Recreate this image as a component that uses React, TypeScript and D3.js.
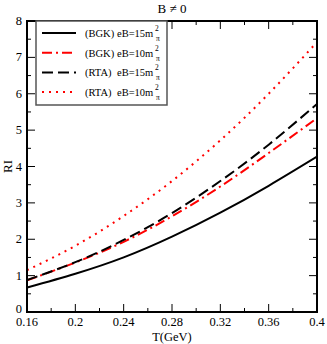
import React from 'react';
import * as d3 from 'd3';

const temps = [0.16, 0.2, 0.24, 0.28, 0.32, 0.36, 0.4];
const bgk15 = [0.67, 1.05, 1.5, 2.07, 2.73, 3.47, 4.27];
const bgk10 = [0.87, 1.36, 1.93, 2.63, 3.45, 4.37, 5.33];
const rta15 = [0.88, 1.37, 1.98, 2.72, 3.6, 4.6, 5.72];
const rta10 = [1.15, 1.82, 2.64, 3.6, 4.72, 6.0, 7.42];

const xTicks = [0.16, 0.2, 0.24, 0.28, 0.32, 0.36, 0.4];
const xTickLabels = ['0.16', '0.2', '0.24', '0.28', '0.32', '0.36', '0.4'];
const yTicks = [0, 1, 2, 3, 4, 5, 6, 7, 8];

const series = [
  { model: '(BGK)', eb: '15', values: bgk15, color: '#000', dash: null },
  { model: '(BGK)', eb: '10', values: bgk10, color: '#ff0000', dash: '10,4,2,4' },
  { model: '(RTA)', eb: '15', values: rta15, color: '#000', dash: '11,5' },
  { model: '(RTA)', eb: '10', values: rta10, color: '#ff0000', dash: '2,5' },
];

export default function App() {
  const W = 327, H = 344;
  const m = { left: 27, right: 10, top: 21, bottom: 32 };
  const x = d3.scaleLinear().domain([0.16, 0.4]).range([m.left, W - m.right]);
  const y = d3.scaleLinear().domain([0, 8]).range([H - m.bottom, m.top]);
  const font = '"Liberation Serif", "DejaVu Serif", serif';

  const line = d3.line<number>()
    .x((_, i) => x(temps[i]))
    .y(d => y(d))
    .curve(d3.curveNatural);

  const xMinor = d3.range(0.18, 0.4, 0.04);
  const yMinor = d3.range(0.5, 8, 1);

  const x0 = x(0.16), x1 = x(0.4), y0 = y(0), y1 = y(8);

  return (
    <svg width={W} height={H} style={{ position: 'absolute', left: 0, top: 0, background: '#fff' }}>
      <text x={(x0 + x1) / 2} y={13} textAnchor="middle" fontFamily={font} fontSize={13}>B ≠ 0</text>

      <defs>
        <clipPath id="plot"><rect x={x0} y={y1} width={x1 - x0} height={y0 - y1} /></clipPath>
      </defs>

      {/* ticks */}
      {xTicks.map((t, i) => (
        <g key={'xt' + i}>
          <line x1={x(t)} x2={x(t)} y1={y0} y2={y0 - 8} stroke="#000" strokeWidth={1} />
          <line x1={x(t)} x2={x(t)} y1={y1} y2={y1 + 8} stroke="#000" strokeWidth={1} />
          <text x={x(t)} y={y0 + 14} textAnchor="middle" fontFamily={font} fontSize={12.5}>{xTickLabels[i]}</text>
        </g>
      ))}
      {xMinor.map((t, i) => (
        <g key={'xm' + i}>
          <line x1={x(t)} x2={x(t)} y1={y0} y2={y0 - 4} stroke="#000" strokeWidth={1} />
          <line x1={x(t)} x2={x(t)} y1={y1} y2={y1 + 4} stroke="#000" strokeWidth={1} />
        </g>
      ))}
      {yTicks.map((t, i) => (
        <g key={'yt' + i}>
          <line x1={x0} x2={x0 + 8} y1={y(t)} y2={y(t)} stroke="#000" strokeWidth={1} />
          <line x1={x1} x2={x1 - 8} y1={y(t)} y2={y(t)} stroke="#000" strokeWidth={1} />
          <text x={x0 - 5} y={y(t) + (t === 0 ? 1 : 4)} textAnchor="end" fontFamily={font} fontSize={12.5}>{t}</text>
        </g>
      ))}
      {yMinor.map((t, i) => (
        <g key={'ym' + i}>
          <line x1={x0} x2={x0 + 4} y1={y(t)} y2={y(t)} stroke="#000" strokeWidth={1} />
          <line x1={x1} x2={x1 - 4} y1={y(t)} y2={y(t)} stroke="#000" strokeWidth={1} />
        </g>
      ))}

      <g clipPath="url(#plot)">
        {series.map((s, i) => (
          <path key={'s' + i} d={line(s.values) || ''} fill="none" stroke={s.color} strokeWidth={2}
            strokeDasharray={s.dash || undefined} />
        ))}
      </g>

      <rect x={x0} y={y1} width={x1 - x0} height={y0 - y1} fill="none" stroke="#000" strokeWidth={2} />

      {/* legend */}
      <rect x={36} y={y1} width={131} height={84} fill="#fff" stroke="#555" strokeWidth={1.5} />
      {series.map((s, i) => {
        const ly = 33 + i * 19.7;
        return (
          <g key={'lg' + i}>
            <line x1={42} x2={76} y1={ly} y2={ly} stroke={s.color} strokeWidth={2} strokeDasharray={s.dash || undefined} />
            <text x={85} y={ly + 4} fontFamily={font} fontSize={10.5}>{s.model}</text>
            <text x={117} y={ly + 4} fontFamily={font} fontSize={10.5}>{'eB=' + s.eb + 'm'}</text>
            <text x={155} y={ly - 2} fontFamily={font} fontSize={7.5}>2</text>
            <text x={156} y={ly + 8} fontFamily={font} fontSize={7.5}>π</text>
          </g>
        );
      })}

      <text transform={`translate(12,${(y0 + y1) / 2}) rotate(-90)`} textAnchor="middle" fontFamily={font} fontSize={13}>RI</text>
      <text x={(x0 + x1) / 2} y={341} textAnchor="middle" fontFamily={font} fontSize={12.5}>T(GeV)</text>
    </svg>
  );
}
